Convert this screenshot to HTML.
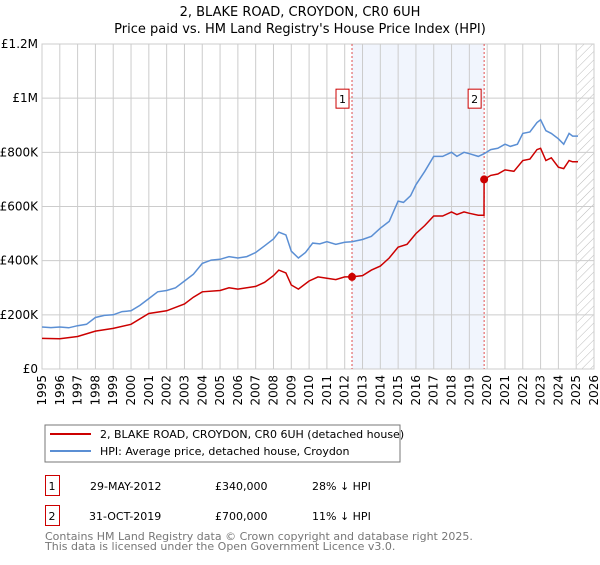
<!DOCTYPE html>
<html><head><meta charset="utf-8"><style>
body{margin:0;background:#fff;font-family:"Liberation Sans","DejaVu Sans",sans-serif;}
svg text{font-family:"DejaVu Sans","Liberation Sans",sans-serif;}
</style></head><body>
<svg id="c" width="600" height="560" xmlns="http://www.w3.org/2000/svg">
<defs><pattern id="hatch" width="6" height="6" patternUnits="userSpaceOnUse" patternTransform="rotate(45)"><line x1="0" y1="0" x2="0" y2="6" stroke="#bbb" stroke-width="1"/></pattern></defs>
<text x="300" y="16" text-anchor="middle" font-size="13" fill="#000">2, BLAKE ROAD, CROYDON, CR0 6UH</text>
<text x="300" y="33" text-anchor="middle" font-size="13" fill="#000">Price paid vs. HM Land Registry's House Price Index (HPI)</text>
<g id="plot"></g>
<rect x="45" y="425" width="355" height="37" fill="#fff" stroke="#777"/>
<line x1="50" y1="434" x2="91" y2="434" stroke="#cc0000" stroke-width="2"/>
<text x="100" y="438" font-size="11">2, BLAKE ROAD, CROYDON, CR0 6UH (detached house)</text>
<line x1="50" y1="451" x2="91" y2="451" stroke="#5b8fd4" stroke-width="2"/>
<text x="100" y="455" font-size="11">HPI: Average price, detached house, Croydon</text>
<rect x="45.5" y="475.5" width="14" height="20" fill="#fff" stroke="#cc0000"/>
<text x="52" y="490" font-size="11" text-anchor="middle">1</text>
<text x="90" y="490" font-size="11">29-MAY-2012</text>
<text x="215" y="490" font-size="11">£340,000</text>
<text x="312" y="490" font-size="11">28% ↓ HPI</text>
<rect x="45.5" y="505.5" width="14" height="20" fill="#fff" stroke="#cc0000"/>
<text x="52" y="520" font-size="11" text-anchor="middle">2</text>
<text x="89" y="520" font-size="11">31-OCT-2019</text>
<text x="215" y="520" font-size="11">£700,000</text>
<text x="312" y="520" font-size="11">11% ↓ HPI</text>
<text x="45" y="540" font-size="11" fill="#777">Contains HM Land Registry data © Crown copyright and database right 2025.</text>
<text x="45" y="550" font-size="11" fill="#777">This data is licensed under the Open Government Licence v3.0.</text>
</svg>
<script>
const hpiYears=[1995,1995.5,1996,1996.5,1997,1997.5,1998,1998.5,1999,1999.5,2000,2000.5,2001,2001.5,2002,2002.5,2003,2003.5,2004,2004.5,2005,2005.5,2006,2006.5,2007,2007.5,2008,2008.3,2008.7,2009,2009.4,2009.8,2010.2,2010.6,2011,2011.5,2012,2012.4,2013,2013.5,2014,2014.5,2015,2015.3,2015.7,2016,2016.5,2017,2017.5,2018,2018.3,2018.7,2019,2019.5,2019.83,2020.2,2020.6,2021,2021.3,2021.7,2022,2022.4,2022.8,2023,2023.3,2023.6,2024,2024.3,2024.6,2024.8,2025.1];
const hpiValues=[155,153,155,152,160,165,190,198,200,212,215,235,260,285,290,300,325,350,390,402,405,415,410,415,430,455,480,505,495,435,410,430,465,462,470,460,468,470,478,490,520,545,620,615,640,680,730,785,785,800,785,800,795,785,795,810,815,830,822,830,870,875,910,920,880,870,850,830,870,860,860];
const priceYears=[1995,1996,1997,1998,1999,2000,2001,2002,2003,2003.5,2004,2005,2005.5,2006,2007,2007.5,2008,2008.3,2008.7,2009,2009.4,2010,2010.5,2011,2011.5,2012,2012.41,2013,2013.5,2014,2014.5,2015,2015.5,2016,2016.5,2017,2017.5,2018,2018.3,2018.7,2019,2019.5,2019.82,2019.83,2020.2,2020.6,2021,2021.5,2022,2022.4,2022.8,2023,2023.3,2023.6,2024,2024.3,2024.6,2024.8,2025.1];
const priceValues=[113,112,120,140,150,165,205,215,240,265,285,290,300,295,305,320,345,365,355,310,295,325,340,335,330,340,340,345,365,380,410,450,460,500,530,565,565,580,570,580,575,568,568,700,715,720,735,730,770,775,810,815,770,780,745,740,770,765,765];
const saleYears=[2012.41,2019.83];
const saleValues=[340,700];
const saleLabels=["1","2"];
const yTicks=[0,200,400,600,800,1000,1200];
const yTickLabels=["£0","£200K","£400K","£600K","£800K","£1M","£1.2M"];
const xTicks=[1995,1996,1997,1998,1999,2000,2001,2002,2003,2004,2005,2006,2007,2008,2009,2010,2011,2012,2013,2014,2015,2016,2017,2018,2019,2020,2021,2022,2023,2024,2025,2026];
const X0=42,X1=594,Y0=369,Y1=44;
const x=v=>X0+(v-1995)/(2026-1995)*(X1-X0);
const y=v=>Y0-v/1200*(Y0-Y1);
const NS="http://www.w3.org/2000/svg";
const g=document.getElementById('plot');
function mk(t,a){const e=document.createElementNS(NS,t);for(const k in a)e.setAttribute(k,a[k]);g.appendChild(e);return e;}
let e=mk('rect',{x:x(saleYears[0]),y:Y1,width:x(saleYears[1])-x(saleYears[0]),height:Y0-Y1,fill:'#eef3fc',opacity:0.8});


e=mk('rect',{x:x(2025.05),y:Y1,width:X1-x(2025.05),height:Y0-Y1,fill:'url(#hatch)'});


xTicks.forEach(t=>{
 let l=mk('line',{x1:x(t),x2:x(t),y1:Y1,y2:Y0,stroke:'#ccc','stroke-width':1});
 
 
 let tx=mk('text',{x:0,y:0,'font-size':12,'text-anchor':'end',transform:`translate(${x(t)+4},${Y0+6}) rotate(-90)`});
 tx.textContent=t;
 
 
});
yTicks.forEach((t,i)=>{
 let l=mk('line',{x1:X0,x2:X1,y1:y(t),y2:y(t),stroke:'#ccc','stroke-width':1});
 
 
 let tx=mk('text',{x:X0-4,y:y(t)+4,'font-size':12,'text-anchor':'end'});
 tx.textContent=yTickLabels[i];
 
 
});
e=mk('rect',{x:X0,y:Y1,width:X1-X0,height:Y0-Y1,fill:'none',stroke:'#ccc'});


saleYears.forEach((s,i)=>{
 let l=mk('line',{x1:x(s),x2:x(s),y1:Y1,y2:Y0,stroke:'#e05050','stroke-dasharray':'2,2','stroke-width':1});
 
 
});
const pts=(xs,vs)=>xs.map((a,i)=>x(a).toFixed(1)+','+y(vs[i]).toFixed(1)).join(' ');
e=mk('polyline',{points:pts(hpiYears,hpiValues),fill:'none',stroke:'#5b8fd4','stroke-width':1.5});


e=mk('polyline',{points:pts(priceYears,priceValues),fill:'none',stroke:'#cc0000','stroke-width':1.5});


saleYears.forEach((s,i)=>{
 let c=mk('circle',{cx:x(s),cy:y(saleValues[i]),r:4,fill:'#cc0000'});
 
 
 let r=mk('rect',{x:x(s)-16,y:y(1000)-9,width:13,height:19,fill:'#fff',stroke:'#cc0000'});
 
 
 let t=mk('text',{x:x(s)-9.5,y:y(1000)+5,'font-size':11,'text-anchor':'middle'});
 t.textContent=saleLabels[i];
 
 
});
</script>
</body></html>
